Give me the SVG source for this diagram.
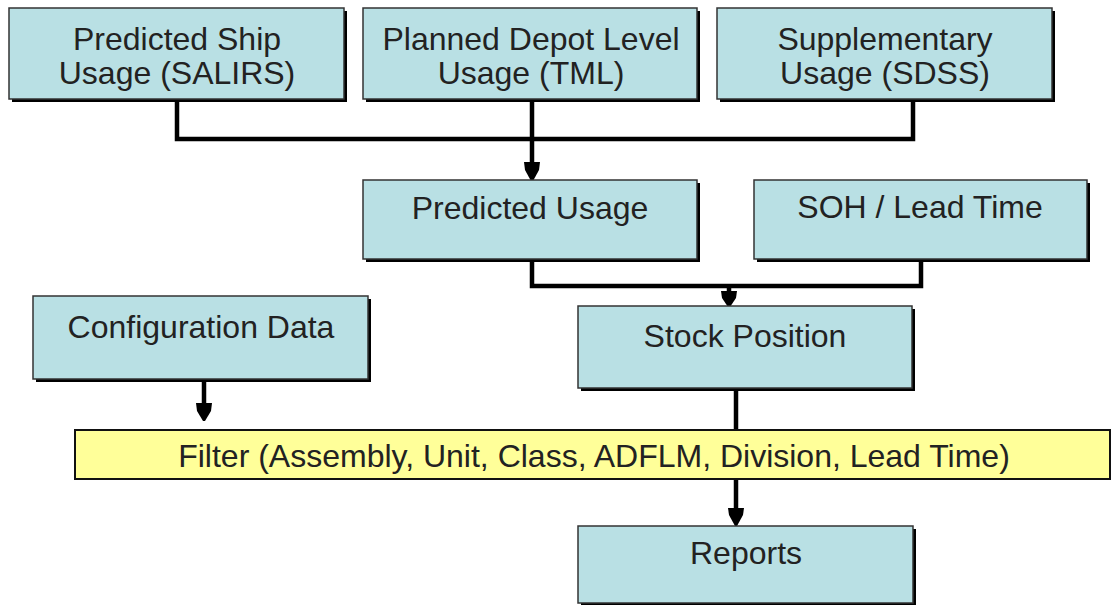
<svg xmlns="http://www.w3.org/2000/svg" width="1111" height="605" viewBox="0 0 1111 605">
<defs>
<style>
.shadow{fill:#000}
.box{fill:#B9E0E4;stroke:#333;stroke-width:1.5}
.filter{fill:#FFFF99;stroke:#111;stroke-width:2}
.t{font-family:"Liberation Sans",Arial,sans-serif;font-size:32px;fill:#222;text-anchor:middle}
.c{fill:none;stroke:#000;stroke-width:4.5;stroke-linejoin:miter;stroke-linecap:butt}
.ah{fill:#000}
</style>
</defs>
<rect width="1111" height="605" fill="#fff"/>
<g id="connectors">
<path class="c" d="M177 102 V139 H913 V102"/>
<path class="c" d="M532 102 V166"/>
<polygon class="ah" points="524,162 540,162 539,170 533,181 531,181 525,170"/>
<path class="c" d="M532 262 V286 H921 V262"/>
<path class="c" d="M729 286 V294"/>
<polygon class="ah" points="721,291 737,291 736,298 730,307 728,307 722,298"/>
<path class="c" d="M204 382 V406"/>
<polygon class="ah" points="196,403 212,403 211,411 205,421 203,421 197,411"/>
<path class="c" d="M736 391 V430"/>
<path class="c" d="M736 479 V512"/>
<polygon class="ah" points="728,508 744,508 743,515 737,526 735,526 729,515"/>
</g>
<g id="node-salirs">
<rect class="shadow" x="12" y="11" width="335" height="91"/>
<rect class="box" x="9" y="8" width="335" height="91"/>
<text class="t" x="177" y="50">Predicted Ship</text>
<text class="t" x="177" y="84">Usage (SALIRS)</text>
</g>
<g id="node-tml">
<rect class="shadow" x="366" y="11" width="334" height="91"/>
<rect class="box" x="363" y="8" width="334" height="91"/>
<text class="t" x="531" y="50">Planned Depot Level</text>
<text class="t" x="531" y="84">Usage (TML)</text>
</g>
<g id="node-sdss">
<rect class="shadow" x="720" y="11" width="335" height="91"/>
<rect class="box" x="717" y="8" width="335" height="91"/>
<text class="t" x="885" y="50">Supplementary</text>
<text class="t" x="885" y="84">Usage (SDSS)</text>
</g>
<g id="node-predicted-usage">
<rect class="shadow" x="366" y="183" width="334" height="79"/>
<rect class="box" x="363" y="180" width="334" height="79"/>
<text class="t" x="530" y="219">Predicted Usage</text>
</g>
<g id="node-soh">
<rect class="shadow" x="757" y="183" width="333" height="79"/>
<rect class="box" x="754" y="180" width="333" height="79"/>
<text class="t" x="920" y="218">SOH / Lead Time</text>
</g>
<g id="node-config">
<rect class="shadow" x="36" y="299" width="335" height="83"/>
<rect class="box" x="33" y="296" width="335" height="83"/>
<text class="t" x="201" y="338">Configuration Data</text>
</g>
<g id="node-stock">
<rect class="shadow" x="581" y="309" width="334" height="82"/>
<rect class="box" x="578" y="306" width="334" height="82"/>
<text class="t" x="745" y="347">Stock Position</text>
</g>
<g id="node-filter">
<rect class="filter" x="75" y="430" width="1035" height="49"/>
<text class="t" x="594" y="467">Filter (Assembly, Unit, Class, ADFLM, Division, Lead Time)</text>
</g>
<g id="node-reports">
<rect class="shadow" x="581" y="529" width="335" height="76"/>
<rect class="box" x="578" y="526" width="335" height="77"/>
<text class="t" x="746" y="564">Reports</text>
</g>
</svg>
